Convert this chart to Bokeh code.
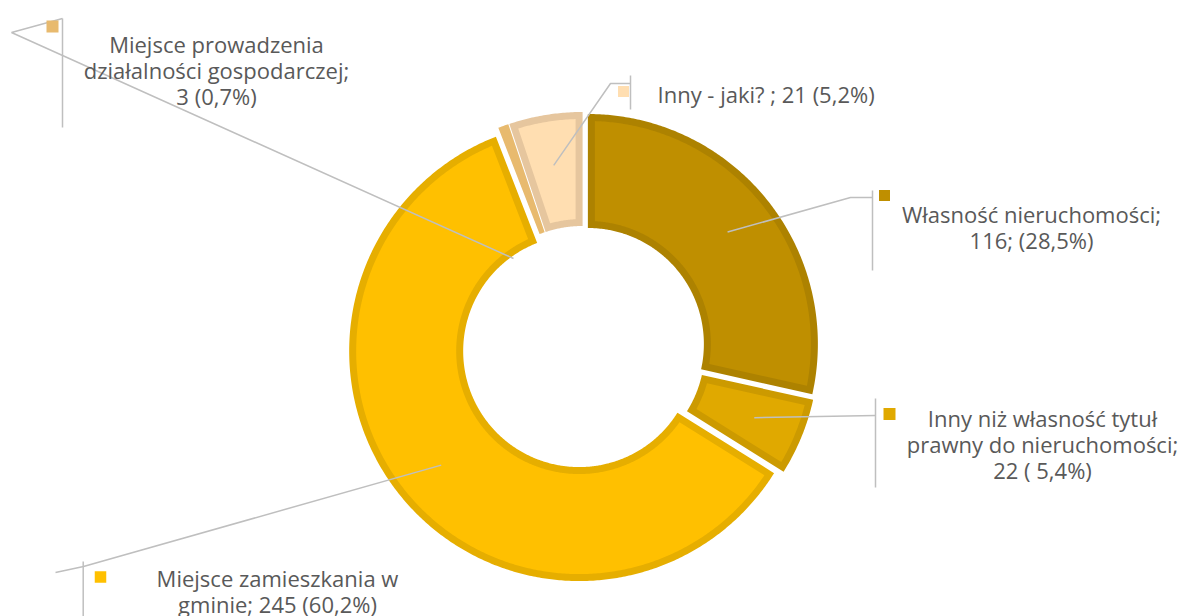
import math
from bokeh.plotting import figure
from bokeh.models import Range1d
from bokeh.embed import file_html
from bokeh.resources import INLINE
from bokeh.core.properties import value

# ---------------- data ----------------
categories = [
    "Własność nieruchomości",
    "Inny niż własność tytuł prawny do nieruchomości",
    "Miejsce zamieszkania w gminie",
    "Miejsce prowadzenia działalności gospodarczej",
    "Inny - jaki?",
]
counts = [116, 22, 245, 3, 21]
label_lines = [
    ["Własność nieruchomości;", "116; (28,5%)"],
    ["Inny niż własność tytuł", "prawny do nieruchomości;", "22 ( 5,4%)"],
    ["Miejsce zamieszkania w", "gminie; 245 (60,2%)"],
    ["Miejsce prowadzenia", "działalności gospodarczej;", "3 (0,7%)"],
    ["Inny - jaki? ; 21 (5,2%)"],
]
fill_colors = ["#BF8F00", "#E0A900", "#FFC000", "#E8BA6E", "#FFDEB1"]
border_colors = ["#AD8200", "#CC9A00", "#E6AE00", "#E8BA6E", "#E6C69E"]

# ---------------- layout (image pixel coordinates) ----------------
W, H = 1182, 616
CX, CY = 583.0, 347.0
R_OUT, R_IN = 230.0, 116.0
EXPLODE = 5.6
BORDER = 7.0
ANCHOR_R = 179.0
GREY = "#BFBFBF"
TEXT_COLOR = "#595959"
FONT = "Open Sans"
FONT_SIZE = "22px"
LINE_GAP = 26

label_layout = [
    dict(tx=1031, ty=213, align="center", sq=(884, 195), sqs=11,
         bar=(872, 190, 270), lead=[(872, 197), (850, 197)]),
    dict(tx=1042, ty=417, align="center", sq=(889, 413.5), sqs=12,
         bar=(875, 398, 487), lead=[(875, 415)]),
    dict(tx=277, ty=577, align="center", sq=(100, 576.5), sqs=11.5,
         bar=(82.7, 561, 620), lead=[(55, 572), (83, 566)]),
    dict(tx=216, ty=43, align="center", sq=(52, 26), sqs=12,
         bar=(62, 18, 127), lead=[(62, 18), (11, 32)],
         anchor=(513, 258)),
    dict(tx=657, ty=93, align="left", sq=(623, 91), sqs=11,
         bar=(630, 75, 109), lead=[(630, 83), (610, 83)]),
]


def Y(y):
    return -y


def arc(cx, cy, rho, a0, a1):
    n = max(2, int(abs(a1 - a0) * 180 / math.pi * 2) + 2)
    pts = []
    for k in range(n):
        a = a0 + (a1 - a0) * k / (n - 1)
        pts.append((cx + rho * math.sin(a), cy - rho * math.cos(a)))
    return pts


def sector(cx, cy, r0, r1, a0, a1, inset=0.0):
    ro = r1 - inset
    ri = r0 + inset
    if inset > 0:
        do = math.asin(min(1.0, inset / ro))
        di = math.asin(min(1.0, inset / ri))
        if (a1 - a0) - 2 * di <= 0.002 or (a1 - a0) - 2 * do <= 0.002:
            return None
    else:
        do = di = 0.0
    pts = arc(cx, cy, ro, a0 + do, a1 - do) + arc(cx, cy, ri, a1 - di, a0 + di)
    xs = [p[0] for p in pts]
    ys = [Y(p[1]) for p in pts]
    return xs, ys


total = float(sum(counts))
angles = []
acc = 0.0
for c in counts:
    a0 = acc / total * 2 * math.pi
    acc += c
    a1 = acc / total * 2 * math.pi
    angles.append((a0, a1))

p = figure(width=W, height=H, output_backend="svg", toolbar_location=None,
           x_range=Range1d(0, W), y_range=Range1d(Y(H), Y(0)),
           x_axis_type=None, y_axis_type=None, min_border=0)
p.outline_line_color = None
p.background_fill_color = "white"
p.border_fill_color = "white"

outer_xs, outer_ys, outer_cols = [], [], []
inner_xs, inner_ys, inner_cols = [], [], []
centres = []
for i, (a0, a1) in enumerate(angles):
    am = (a0 + a1) / 2
    cx = CX + EXPLODE * math.sin(am)
    cy = CY - EXPLODE * math.cos(am)
    centres.append((cx, cy, am))
    xs, ys = sector(cx, cy, R_IN, R_OUT, a0, a1)
    outer_xs.append(xs); outer_ys.append(ys); outer_cols.append(border_colors[i])
    ins = sector(cx, cy, R_IN, R_OUT, a0, a1, inset=BORDER)
    if ins is not None:
        inner_xs.append(ins[0]); inner_ys.append(ins[1]); inner_cols.append(fill_colors[i])

p.patches(outer_xs, outer_ys, fill_color=outer_cols, line_color=None)
p.patches(inner_xs, inner_ys, fill_color=inner_cols, line_color=None)

for i, lay in enumerate(label_layout):
    cx, cy, am = centres[i]
    if "anchor" in lay:
        ax, ay = lay["anchor"]
    else:
        ax = cx + ANCHOR_R * math.sin(am)
        ay = cy - ANCHOR_R * math.cos(am)
    pts = lay["lead"] + [(ax, ay)]
    p.line([q[0] for q in pts], [Y(q[1]) for q in pts], line_color=GREY, line_width=1.5)
    bx, by0, by1 = lay["bar"]
    p.line([bx, bx], [Y(by0), Y(by1)], line_color=GREY, line_width=1.5)
    sx, sy = lay["sq"]
    p.rect([sx], [Y(sy)], width=lay["sqs"], height=lay["sqs"],
           fill_color=fill_colors[i], line_color=None)
    for k, line in enumerate(label_lines[i]):
        p.text([lay["tx"]], [Y(lay["ty"] + k * LINE_GAP)], text=[line],
               text_font=value(FONT), text_font_size=FONT_SIZE,
               text_color=TEXT_COLOR, text_align=lay["align"],
               text_baseline="alphabetic")

open("out.html", "w").write(file_html(p, INLINE))
